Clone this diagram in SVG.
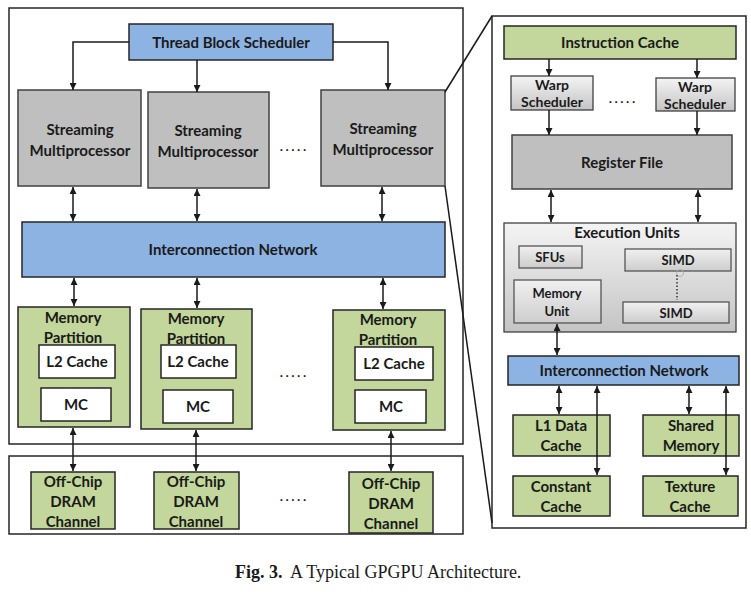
<svg xmlns="http://www.w3.org/2000/svg" width="751" height="595" viewBox="0 0 751 595">
<defs>
<linearGradient id="lg" x1="0" y1="0" x2="0" y2="1">
<stop offset="0" stop-color="#f4f4f4"/><stop offset="1" stop-color="#c4c4c4"/>
</linearGradient>
<linearGradient id="lg2" x1="0" y1="0" x2="0" y2="1">
<stop offset="0" stop-color="#f0f0f0"/><stop offset="1" stop-color="#cdcdcd"/>
</linearGradient>
<marker id="ah" viewBox="0 0 8 8" refX="8" refY="4" markerWidth="7" markerHeight="7" markerUnits="userSpaceOnUse" orient="auto-start-reverse">
<path d="M0,0 L8,4 L0,8 z" fill="#1a1a1a"/>
</marker>
</defs>
<style>
.frame{fill:#fff;stroke:#262626;stroke-width:1.5}
.blue{fill:#8db3e2;stroke:#262626;stroke-width:1.5}
.gray{fill:#bfbfbf;stroke:#404040;stroke-width:1.5}
.green{fill:#c3d69b;stroke:#262626;stroke-width:1.5}
.white{fill:#fff;stroke:#262626;stroke-width:1.5}
.lgray{fill:url(#lg);stroke:#404040;stroke-width:1.3}
.lgray2{fill:url(#lg2);stroke:#555;stroke-width:1.3}
text{font-family:Lato,"Open Sans","Liberation Sans",sans-serif;font-weight:bold;font-size:15px;fill:#1a1a1a;text-anchor:middle}
.s{font-size:14px}
.xs{font-size:13px}
.dots{font-weight:normal;font-size:16px;letter-spacing:2px}
.c{stroke:#1a1a1a;stroke-width:1.5;fill:none}
.a1{marker-end:url(#ah)}
.a2{marker-start:url(#ah);marker-end:url(#ah)}
.cap{font-family:"Liberation Serif","DejaVu Serif",serif;font-weight:normal;font-size:18px;text-anchor:start}
</style>

<rect class="frame" x="9" y="8" width="454" height="436"/>
<rect class="frame" x="9" y="456" width="454" height="78"/>
<rect class="frame" x="492" y="16" width="254" height="512"/>

<g id="thread-block-scheduler"><rect class="blue" x="129" y="24" width="204" height="36"/><text x="231" y="48">Thread Block Scheduler</text></g>

<g id="sm1"><rect class="gray" x="18" y="90" width="123" height="96"/><text x="80" y="135">Streaming</text><text x="80" y="156">Multiprocessor</text></g>
<g id="sm2"><rect class="gray" x="148" y="92" width="121" height="96"/><text x="208" y="136">Streaming</text><text x="208" y="157">Multiprocessor</text></g>
<text class="dots" x="294" y="151">.....</text>
<g id="sm3"><rect class="gray" x="321" y="90" width="124" height="96"/><text x="383" y="134">Streaming</text><text x="383" y="155">Multiprocessor</text></g>

<g id="interconnection-network"><rect class="blue" x="22" y="222" width="423" height="55"/><text x="233" y="255">Interconnection Network</text></g>

<g id="mp1"><rect class="green" x="18" y="307" width="112" height="120"/><text x="73" y="323">Memory</text><text x="73" y="343">Partition</text>
<rect class="white" x="39" y="345" width="76" height="33"/><text x="77" y="367">L2 Cache</text>
<rect class="white" x="41" y="388" width="70" height="33"/><text x="76" y="410">MC</text></g>
<g id="mp2"><rect class="green" x="141" y="309" width="111" height="120"/><text x="196" y="324">Memory</text><text x="196" y="344">Partition</text>
<rect class="white" x="161" y="345" width="75" height="33"/><text x="198" y="367">L2 Cache</text>
<rect class="white" x="163" y="390" width="70" height="33"/><text x="198" y="412">MC</text></g>
<text class="dots" x="294" y="377">.....</text>
<g id="mp3"><rect class="green" x="333" y="310" width="112" height="120"/><text x="388" y="325">Memory</text><text x="388" y="345">Partition</text>
<rect class="white" x="355" y="347" width="78" height="33"/><text x="394" y="369">L2 Cache</text>
<rect class="white" x="355" y="390" width="71" height="33"/><text x="391" y="412">MC</text></g>

<g id="dram1"><rect class="green" x="31" y="472" width="84" height="57"/><text x="73" y="487">Off-Chip</text><text x="73" y="507">DRAM</text><text x="73" y="527">Channel</text></g>
<g id="dram2"><rect class="green" x="154" y="472" width="85" height="57"/><text x="196" y="487">Off-Chip</text><text x="196" y="507">DRAM</text><text x="196" y="527">Channel</text></g>
<text class="dots" x="294" y="501">.....</text>
<g id="dram3"><rect class="green" x="349" y="472" width="84" height="61"/><text x="391" y="489">Off-Chip</text><text x="391" y="509">DRAM</text><text x="391" y="529">Channel</text></g>

<g id="instruction-cache"><rect class="green" x="504" y="26" width="232" height="33"/><text x="620" y="48">Instruction Cache</text></g>
<g id="warp-scheduler-1"><rect class="lgray" x="511" y="76" width="82" height="34"/><text class="s" x="552" y="90">Warp</text><text class="s" x="552" y="107">Scheduler</text></g>
<text class="dots" x="623" y="103">.....</text>
<g id="warp-scheduler-2"><rect class="lgray" x="656" y="78" width="79" height="33"/><text class="s" x="695" y="92">Warp</text><text class="s" x="695" y="109">Scheduler</text></g>
<g id="register-file"><rect class="gray" x="512" y="135" width="220" height="54"/><text x="622" y="168">Register File</text></g>

<g id="execution-units"><rect class="lgray" x="504" y="223" width="232" height="109"/><text x="627" y="238">Execution Units</text>
<rect class="lgray2" x="519" y="246" width="63" height="22"/><text class="xs" x="550" y="262">SFUs</text>
<rect class="lgray2" x="625" y="249" width="106" height="22"/><text class="xs" x="678" y="265">SIMD</text>
<rect class="lgray2" x="514" y="280" width="87" height="43"/><text class="xs" x="557" y="298">Memory</text><text class="xs" x="557" y="316">Unit</text>
<rect class="lgray2" x="623" y="302" width="106" height="21"/><text class="xs" x="676" y="318">SIMD</text>
<circle cx="680" cy="273" r="3.5" fill="none" stroke="#aaa" stroke-width="0.8"/>
<path d="M677,275 V300" stroke="#333" stroke-width="1.5" stroke-dasharray="1.5,2" fill="none"/></g>

<g id="interconnection-network-sm"><rect class="blue" x="508" y="356" width="231" height="29"/><text x="624" y="376">Interconnection Network</text></g>
<g id="l1-data-cache"><rect class="green" x="513" y="415" width="97" height="41"/><text x="561" y="431">L1 Data</text><text x="561" y="451">Cache</text></g>
<g id="shared-memory"><rect class="green" x="643" y="415" width="96" height="41"/><text x="691" y="431">Shared</text><text x="691" y="451">Memory</text></g>
<g id="constant-cache"><rect class="green" x="513" y="476" width="97" height="40"/><text x="561" y="492">Constant</text><text x="561" y="512">Cache</text></g>
<g id="texture-cache"><rect class="green" x="643" y="476" width="95" height="40"/><text x="690" y="492">Texture</text><text x="690" y="512">Cache</text></g>

<g id="connectors">
<path class="c a1" d="M129,42 H73 V90"/>
<path class="c a1" d="M333,42 H388 V90"/>
<path class="c a1" d="M197,60 V92"/>
<path class="c a2" d="M73,187 V221"/>
<path class="c a2" d="M197,189 V221"/>
<path class="c a2" d="M382,187 V221"/>
<path class="c a2" d="M74,278 V306"/>
<path class="c a2" d="M197,278 V308"/>
<path class="c a2" d="M383,278 V309"/>
<path class="c a2" d="M73,428 V471"/>
<path class="c a2" d="M196,430 V471"/>
<path class="c a2" d="M391,431 V471"/>
<path class="c" d="M445,92 L492,16"/>
<path class="c" d="M445,186 L492,523"/>
<path class="c a1" d="M549,59 V76"/>
<path class="c a1" d="M697,59 V78"/>
<path class="c a1" d="M549,110 V135"/>
<path class="c a1" d="M697,111 V135"/>
<path class="c a2" d="M551,190 V222"/>
<path class="c a2" d="M698,190 V222"/>
<path class="c a2" d="M557,324 V355"/>
<path class="c a2" d="M559,386 V414"/>
<path class="c a2" d="M597,386 V475"/>
<path class="c a2" d="M689,386 V414"/>
<path class="c a2" d="M726,386 V475"/>
</g>

<text class="cap" x="235" y="578"><tspan font-weight="bold">Fig. 3.</tspan><tspan x="290">A Typical GPGPU Architecture.</tspan></text>
</svg>
